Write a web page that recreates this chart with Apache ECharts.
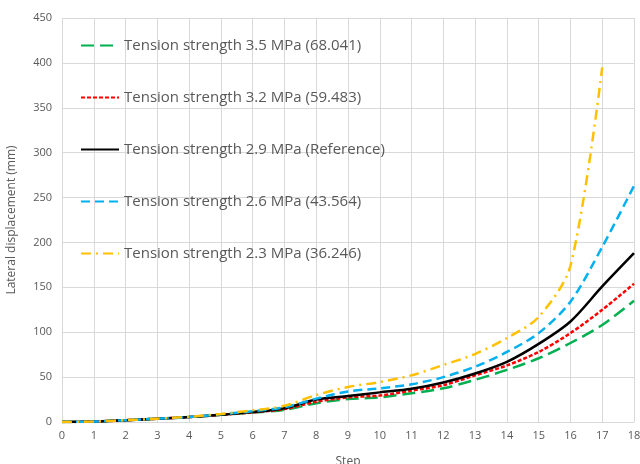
<!DOCTYPE html>
<html>
<head>
<meta charset="utf-8">
<script src="https://cdn.jsdelivr.net/npm/echarts@6/dist/echarts.min.js"></script>
<style>
  html, body { margin: 0; padding: 0; background: #fff; }
  #chart { width: 640px; height: 464px; }
</style>
</head>
<body>
<div id="chart"></div>
<script>
// steps 0..18
const steps = [0, 1, 2, 3, 4, 5, 6, 7, 8, 9, 10, 11, 12, 13, 14, 15, 16, 17, 18];

const ts35 = [0, 0.5, 2, 3.7, 5.5, 8, 10.5, 13.4, 21, 25.5, 27.5, 32, 37.5, 47, 58, 71, 88, 108, 135];
const ts32 = [0, 0.5, 2, 3.7, 5.5, 8, 10.8, 14.4, 22.5, 27.5, 29.5, 35, 41, 52, 63, 78, 99, 125, 154];
const ts29 = [0, 0.5, 2, 3.7, 5.5, 8, 11, 15.3, 25, 29, 33, 37, 44, 54, 67, 87, 112, 151, 188];
const ts26 = [0, 0.5, 2, 3.7, 5.5, 8.5, 12, 16.4, 26, 34, 37.5, 42, 50, 61.6, 78, 99, 134, 195, 263];
const ts23 = [0, 0.5, 2, 3.7, 5.8, 9, 13, 18, 30, 39, 44.5, 52, 63.5, 75.7, 93.5, 117, 174, 395, null];

const names = [
  "Tension strength 3.5 MPa (68.041)",
  "Tension strength 3.2 MPa (59.483)",
  "Tension strength 2.9 MPa (Reference)",
  "Tension strength 2.6 MPa (43.564)",
  "Tension strength 2.3 MPa (36.246)",
];

const chart = echarts.init(document.getElementById("chart"));

const mk = (name, data, color, dash) => ({
  name: name,
  type: "line",
  data: steps.map((s, i) => [s, data[i]]),
  smooth: 0.3,
  symbol: "none",
  connectNulls: false,
  lineStyle: { color: color, width: 2.5, type: dash },
  itemStyle: { color: color },
});

chart.setOption({
  animation: false,
  grid: { left: 62, right: 6, top: 18, bottom: 42, outerBoundsMode: "none" },
  legend: {
    orient: "vertical",
    left: 75,
    top: 33,
    itemGap: 37,
    itemWidth: 38,
    itemHeight: 14,
    itemStyle: { opacity: 0 },
    textStyle: { color: "#595959", fontSize: 15, fontFamily: "Open Sans" },
    data: names,
  },
  xAxis: {
    type: "value",
    min: 0,
    max: 18,
    interval: 1,
    name: "Step",
    nameLocation: "middle",
    nameGap: 34,
    nameTextStyle: { color: "#595959", fontSize: 12, fontFamily: "Open Sans" },
    axisLine: { show: true, lineStyle: { color: "#d9d9d9" } },
    axisTick: { show: false },
    axisLabel: { color: "#595959", fontSize: 11, fontFamily: "Open Sans" },
    splitLine: { show: true, lineStyle: { color: "#d9d9d9" } },
  },
  yAxis: {
    type: "value",
    min: 0,
    max: 450,
    interval: 50,
    name: "Lateral displacement (mm)",
    nameLocation: "middle",
    nameGap: 44,
    nameTextStyle: { color: "#595959", fontSize: 12, fontFamily: "Open Sans" },
    axisLine: { show: false },
    axisTick: { show: false },
    axisLabel: { color: "#595959", fontSize: 11, fontFamily: "Open Sans", margin: 10 },
    splitLine: { show: true, lineStyle: { color: "#d9d9d9" } },
  },
  series: [
    mk(names[0], ts35, "#00b050", [13, 6]),
    mk(names[1], ts32, "#ff0000", [4, 2]),
    mk(names[2], ts29, "#000000", "solid"),
    mk(names[3], ts26, "#00b0f0", [9, 5]),
    mk(names[4], ts23, "#ffc000", [10, 5, 2, 5]),
  ],
});
</script>
</body>
</html>
